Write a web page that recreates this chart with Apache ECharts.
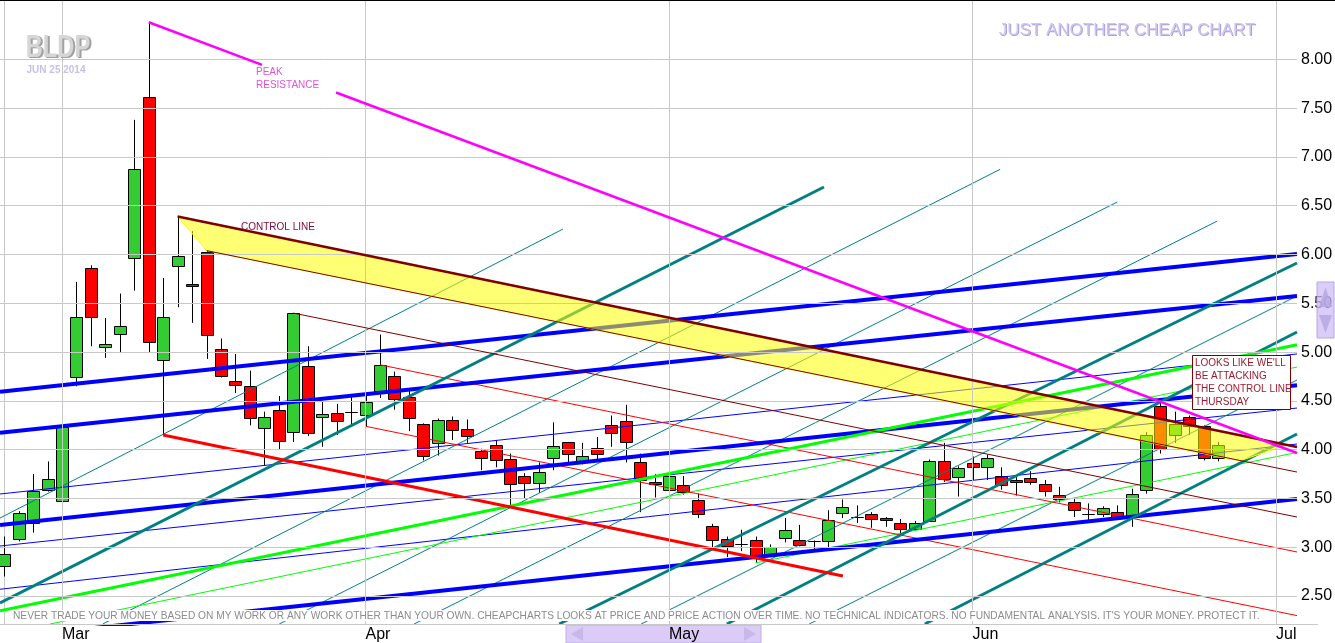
<!DOCTYPE html>
<html><head><meta charset="utf-8">
<script src="https://cdn.jsdelivr.net/npm/echarts@6/dist/echarts.min.js"></script>
<style>html,body{margin:0;padding:0;background:#fff;overflow:hidden}#c{width:1335px;height:643px}</style>
</head><body><div id="c"></div>
<script>
// ---------- data (x = trading-day index, 0 = 2014-02-25) ----------
const dates = ['2014-02-25','2014-02-26','2014-02-27','2014-02-28',
'2014-03-03','2014-03-04','2014-03-05','2014-03-06','2014-03-07','2014-03-10','2014-03-11','2014-03-12','2014-03-13','2014-03-14','2014-03-17','2014-03-18','2014-03-19','2014-03-20','2014-03-21','2014-03-24','2014-03-25','2014-03-26','2014-03-27','2014-03-28','2014-03-31',
'2014-04-01','2014-04-02','2014-04-03','2014-04-04','2014-04-07','2014-04-08','2014-04-09','2014-04-10','2014-04-11','2014-04-14','2014-04-15','2014-04-16','2014-04-17','2014-04-21','2014-04-22','2014-04-23','2014-04-24','2014-04-25','2014-04-28','2014-04-29','2014-04-30',
'2014-05-01','2014-05-02','2014-05-05','2014-05-06','2014-05-07','2014-05-08','2014-05-09','2014-05-12','2014-05-13','2014-05-14','2014-05-15','2014-05-16','2014-05-19','2014-05-20','2014-05-21','2014-05-22','2014-05-23','2014-05-27','2014-05-28','2014-05-29','2014-05-30',
'2014-06-02','2014-06-03','2014-06-04','2014-06-05','2014-06-06','2014-06-09','2014-06-10','2014-06-11','2014-06-12','2014-06-13','2014-06-16','2014-06-17','2014-06-18','2014-06-19','2014-06-20','2014-06-23','2014-06-24','2014-06-25'];
const open = [2.81,3.09,3.25,3.59, 3.47,4.75,5.86,5.05,5.19,5.96,7.61,4.92,5.88,5.70,6.03,5.03,4.70,4.65,4.22,4.41,4.18,4.86,4.33,4.38,4.39,
4.36,4.60,4.76,4.54,4.26,4.07,4.30,4.21,3.99,4.05,3.90,3.73,3.66,3.92,4.08,3.88,4.02,4.25,4.29,3.87,3.67,
3.59,3.64,3.48,3.22,3.08,3.03,3.07,2.93,3.10,3.07,3.06,3.06,3.35,3.31,3.34,3.30,3.25,3.19,3.27,3.88,3.72,
3.86,3.82,3.73,3.69,3.71,3.65,3.54,3.46,3.34,3.34,3.36,3.31,3.59,4.45,4.15,4.33,4.24,3.92];
const high = [3.11,3.37,3.75,3.88, 4.47,5.72,5.89,5.35,5.60,7.38,8.38,5.76,6.39,6.24,6.04,5.14,4.98,4.81,4.39,4.55,5.40,5.06,4.49,4.47,4.54,
4.56,5.18,4.80,4.60,4.27,4.32,4.34,4.31,4.01,4.10,3.96,3.76,3.87,4.28,4.08,4.07,4.13,4.35,4.46,3.96,3.75,
3.79,3.73,3.55,3.24,3.11,3.18,3.11,3.03,3.30,3.23,3.07,3.38,3.49,3.43,3.36,3.31,3.29,3.27,3.90,4.07,3.83,
3.93,3.95,3.82,3.72,3.78,3.69,3.62,3.50,3.45,3.42,3.43,3.60,4.18,4.51,4.39,4.35,4.25,4.08];
const low = [2.70,3.06,3.15,3.57, 3.36,4.65,5.06,4.94,4.99,5.63,5.00,4.15,5.46,5.30,4.93,4.74,4.58,4.25,3.84,4.00,4.08,4.14,4.03,4.15,4.24,
4.24,4.53,4.41,4.19,3.89,3.94,4.10,4.07,3.79,3.82,3.42,3.50,3.56,3.79,3.85,3.85,3.89,4.03,3.87,3.36,3.51,
3.52,3.54,3.30,2.99,2.90,2.96,2.84,2.90,3.05,3.01,2.97,2.99,3.30,3.25,3.20,3.21,3.13,3.17,3.27,3.67,3.52,
3.69,3.69,3.59,3.53,3.64,3.52,3.46,3.31,3.28,3.31,3.28,3.21,3.55,3.96,4.07,4.15,3.89,3.88];
const close = [2.93,3.35,3.58,3.70, 4.23,5.36,5.36,5.08,5.27,6.88,5.10,5.36,5.98,5.68,5.18,4.76,4.66,4.32,4.33,4.09,5.40,4.17,4.37,4.29,4.39,
4.49,4.87,4.52,4.32,3.94,4.30,4.20,4.14,3.92,3.89,3.65,3.66,3.77,4.04,3.96,3.94,3.96,4.17,4.08,3.69,3.65,
3.73,3.57,3.34,3.07,3.01,3.03,2.89,3.00,3.18,3.02,3.06,3.28,3.41,3.31,3.29,3.28,3.19,3.25,3.88,3.70,3.81,
3.82,3.92,3.64,3.67,3.67,3.58,3.49,3.38,3.34,3.40,3.30,3.55,4.15,4.01,4.26,4.24,3.91,4.05];

const yTicks = [2.5,3.0,3.5,4.0,4.5,5.0,5.5,6.0,6.5,7.0,7.5,8.0];
const monthTicks = [4,25,46,67,88];       // first trading day of Mar, Apr, May, Jun, Jul
const monthNames = ['Mar','Apr','May','Jun','Jul'];
const lastPrice = 4.05;
const xMin = -0.29, xMax = 89.45, yMin = 2.214, yMax = 8.608;

// trend lines: [x1, price1, x2, price2]
const blueThick  = [[-0.29,4.594,89.45,6.005],[-0.29,4.174,89.45,5.575],[-0.29,3.229,89.45,4.66],[-0.29,2.07,89.45,3.495]];
const blueThin   = [[-0.29,3.546,89.45,4.981],[-0.29,3.013,89.45,4.427],[-0.29,2.570,89.45,4.058]];
const tealThick  = [[-0.29,2.429,56.72,6.692],[38.4,2.214,89.45,5.913],[50.0,2.214,89.45,5.206],[63.7,2.214,89.45,4.161]];
const tealThin   = [[-0.29,3.300,38.66,6.261],[6.82,2.214,68.91,6.873],[19.03,2.214,77.01,6.538],[28.36,2.214,83.93,6.343],[44.07,2.214,89.45,5.575],[55.7,2.214,89.45,4.714]];
const limeThick  = [[-0.29,2.350,89.45,5.075]];
const limeThin   = [[3.17,2.214,89.45,4.847],[52,2.84,89.45,3.972]];
const redThick   = [[11,4.15,58.03,2.706]];
const redThin    = [[25,4.24,89.45,2.30],[26,4.87,89.45,2.952]];
const maroonThin = [[14,6.04,89.45,3.771],[20,5.40,89.45,3.310]];
const controlLine = [[12,6.39,89.45,4.028]];
const peakResistance = [[10,8.38,17.84,7.944],[22.96,7.660,89.45,3.966]];
const controlBand = [[12,6.39],[88.77,4.05],[85.47,3.885],[14,6.04]];

// ---------- chart ----------
const FONT = '"Liberation Sans", Arial, sans-serif';
function lines(list, color, width, z){
  return list.map(s => ({type:'line', data:[[s[0],s[1]],[s[2],s[3]]], symbol:'none', showSymbol:false,
    silent:true, clip:true, z:z, lineStyle:{color:color, width:width, cap:'butt'}, animation:false}));
}
const chart = echarts.init(document.getElementById('c'), null, {renderer:'canvas'});
const series = [];
// grid lines and right labels
series.push({type:'line', data:[], z:1, silent:true, animation:false,
  markLine:{silent:true, symbol:'none', animation:false,
    lineStyle:{color:'#c8c8c8', width:1, type:'solid'},
    label:{show:true, position:'end', distance:4, color:'#000', fontSize:16, fontFamily:FONT,
      formatter:p => (p.data && p.data.yAxis != null) ? Number(p.data.yAxis).toFixed(2) : ''},
    data: yTicks.map(v => ({yAxis:v})).concat(monthTicks.map(v => ({xAxis:v, label:{show:false}})))}});
// candles
series.push({type:'custom', z:2, clip:true, animation:false, silent:true,
  data: dates.map((d,i) => [i, open[i], high[i], low[i], close[i]]),
  encode:{x:0, y:[1,2,3,4]},
  renderItem:function(params, api){
    const i = api.value(0), o = api.value(1), h = api.value(2), l = api.value(3), c = api.value(4);
    const pO = api.coord([i,o]), pC = api.coord([i,c]), pH = api.coord([i,h]), pL = api.coord([i,l]);
    const x = Math.round(pO[0]) + 0.5;
    const top = Math.round(Math.min(pO[1], pC[1])) + 0.5, bot = Math.round(Math.max(pO[1], pC[1])) + 0.5;
    const fill = c > o ? '#33cc33' : (c < o ? '#ff0000' : '#000000');
    return {type:'group', children:[
      {type:'line', shape:{x1:x, y1:pH[1], x2:x, y2:pL[1]}, style:{stroke:'#000', lineWidth:1}},
      {type:'rect', shape:{x:x-6, y:top, width:12, height:Math.max(bot-top,0)}, style:{fill:fill, stroke:'#000', lineWidth:1}}
    ]};
  }});
// trend lines
series.push(...lines(blueThin,'#0000ff',1,3));
series.push(...lines(tealThin,'#008080',1,3));
series.push(...lines(limeThin,'#00ff00',1,3));
series.push(...lines(redThin,'#ff0000',1,3));
series.push(...lines(blueThick,'#0000ff',4,3));
series.push(...lines(tealThick,'#008080',3,3));
series.push(...lines(limeThick,'#00ff00',3,3));
series.push(...lines(redThick,'#ff0000',3,3));
// control band (translucent over candles)
series.push({type:'custom', z:4, clip:true, silent:true, animation:false, data:[[0]],
  renderItem:function(params, api){
    return {type:'polygon', shape:{points: controlBand.map(p => api.coord(p))},
      style:{fill:'rgba(255,255,0,0.55)', stroke:'#ffff00', lineWidth:1}};
  }});
series.push(...lines(maroonThin,'#800000',1,5));
series.push(...lines(controlLine,'#800000',2.5,5));
series.push(...lines(peakResistance,'#ff00ff',2.5,6));
// last price tag
series.push({type:'line', data:[], z:8, silent:true, animation:false,
  markLine:{silent:true, symbol:'none', animation:false, lineStyle:{width:0, opacity:0},
    label:{show:true, position:'end', distance:1, color:'#fff', backgroundColor:'#000', fontSize:16, fontFamily:FONT,
      padding:[1,3,1,2], formatter:p => Number(p.data.yAxis).toFixed(2)},
    data:[{yAxis:lastPrice}]}});

const graphics = [
  {type:'rect', x:0, y:0, shape:{width:1335, height:1}, style:{fill:'#000'}, z:100},
  {type:'rect', x:0, y:624, shape:{width:1318, height:1}, style:{fill:'#c8c8c8'}, z:100},
  // footer
  {type:'rect', x:12, y:610, shape:{width:1250, height:11}, style:{fill:'#fff'}, z:50},
  {type:'text', x:13, y:616, style:{text:"NEVER TRADE YOUR MONEY BASED ON MY WORK OR ANY WORK OTHER THAN YOUR OWN. CHEAPCHARTS LOOKS AT PRICE AND PRICE ACTION OVER TIME. NO TECHNICAL INDICATORS. NO FUNDAMENTAL ANALYSIS. IT'S YOUR MONEY. PROTECT IT.",
    fill:'#8c8c8c', font:'10.2px '+FONT, textAlign:'left', textVerticalAlign:'middle'}, z:51},
  // titles
  {type:'text', x:60, y:49, scaleX:0.74, style:{text:'BLDP', fill:'#a0a0a0', font:'bold 32px '+FONT, textAlign:'center', textVerticalAlign:'middle'}, z:50},
  {type:'text', x:58, y:48, scaleX:0.74, style:{text:'BLDP', fill:'#d6d6d6', font:'bold 32px '+FONT, textAlign:'center', textVerticalAlign:'middle'}, z:51},
  {type:'text', x:56, y:70, style:{text:'JUN 25 2014', fill:'#c8c0e8', font:'bold 10px '+FONT, textAlign:'center', textVerticalAlign:'middle'}, z:51},
  {type:'text', x:1128, y:31, style:{text:'JUST ANOTHER CHEAP CHART', fill:'#a8a2d8', font:'17px '+FONT, textAlign:'center', textVerticalAlign:'middle'}, z:50},
  {type:'text', x:1127, y:30, style:{text:'JUST ANOTHER CHEAP CHART', fill:'#cdc7f0', font:'17px '+FONT, textAlign:'center', textVerticalAlign:'middle'}, z:51},
  // annotations
  {type:'text', x:256, y:66, style:{text:'PEAK\nRESISTANCE', fill:'#dd55dd', font:'10px '+FONT, textAlign:'left', textVerticalAlign:'top', lineHeight:13}, z:51},
  {type:'text', x:241, y:227, style:{text:'CONTROL LINE', fill:'#801040', font:'10px '+FONT, textAlign:'left', textVerticalAlign:'middle'}, z:51},
  {type:'rect', x:1192.5, y:355.5, shape:{width:98, height:54}, style:{fill:'#fff', stroke:'#800000', lineWidth:1}, z:52},
  {type:'text', x:1195, y:357, style:{text:"LOOKS LIKE WE'LL\nBE ATTACKING\nTHE CONTROL LINE\nTHURSDAY", fill:'#9b1b30', font:'10px '+FONT, textAlign:'left', textVerticalAlign:'top', lineHeight:13}, z:53},
  // bottom scrollbar (behind axis labels)
  {type:'rect', x:566, y:625, shape:{width:195, height:18}, style:{fill:'#dccbf7', stroke:'#c0b0e0', lineWidth:1}, z:-10},
  {type:'polygon', shape:{points:[[571,634],[583,627],[583,641]]}, style:{fill:'#c8b8e8'}, z:-9},
  {type:'polygon', shape:{points:[[756,634],[744,627],[744,641]]}, style:{fill:'#c8b8e8'}, z:-9},
  // right scrollbar
  {type:'rect', x:1317, y:282, shape:{width:17, height:56}, style:{fill:'rgba(205,190,245,0.75)', stroke:'#b8a8dc', lineWidth:1}, z:40},
  {type:'polygon', shape:{points:[[1325.5,287],[1319,307],[1332,307]]}, style:{fill:'rgba(180,165,225,0.8)'}, z:41},
  {type:'polygon', shape:{points:[[1325.5,333],[1319,315],[1332,315]]}, style:{fill:'rgba(180,165,225,0.8)'}, z:41}
];

chart.setOption({
  animation:false,
  backgroundColor:'#fff',
  grid:{left:0, right:38, top:0, bottom:19, containLabel:false},
  xAxis:{type:'value', min:xMin, max:xMax, splitLine:{show:false}, axisTick:{show:false}, axisLine:{show:false}, z:5,
    axisLabel:{customValues:monthTicks, align:'left', margin:3, fontSize:16, fontFamily:FONT,
      color:(v) => v === 46 ? '#1a1a5a' : '#000',
      formatter:(v) => { const k = monthTicks.indexOf(v); return k >= 0 ? monthNames[k] : ''; }}},
  yAxis:{type:'value', position:'right', min:yMin, max:yMax, splitLine:{show:false}, axisTick:{show:false},
    axisLabel:{show:false}, axisLine:{show:true, lineStyle:{color:'#c8c8c8'}}},
  series:series,
  graphic:graphics
});
</script></body></html>
